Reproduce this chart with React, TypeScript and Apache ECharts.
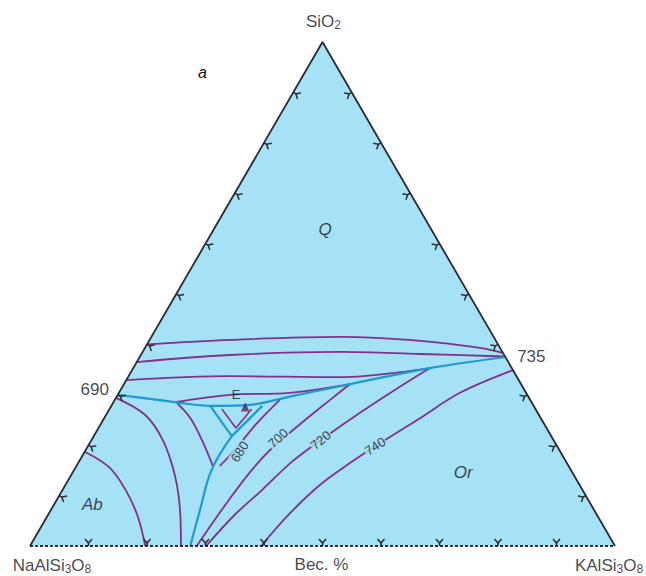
import React, { useEffect, useRef } from "react";
import * as echarts from "echarts";

// All compositions are ternary wt.% pairs: [Q (SiO2), Or (KAlSi3O8)]; Ab = 100 - Q - Or
const vertices = [[0, 0], [0, 100], [100, 0]];
const tickSteps = [10, 20, 30, 40, 50, 60, 70, 80, 90];

const cotecticMain = [[30, 0], [29.2, 5.9], [28.4, 11.4], [27.8, 16.9], [28.0, 23.6], [29.8, 30.1], [32.1, 38.6], [35.3, 50.7], [37.5, 62.5]];
const cotecticLoop = [[27.8, 16.9], [21.8, 23.6], [27.8, 25.8]];
const feldsparBoundary = [[21.8, 23.6], [15.1, 23.5], [7.1, 25.5], [0, 27.4]];

const qIso1 = [[40, 0], [40.9, 13.8], [41.5, 32.3], [40.7, 46.4], [39.3, 57.3], [38.3, 61.7]];
const qIso2 = [[36.5, 0], [37.9, 15.2], [38.5, 33.7], [38.1, 47.6], [37.6, 62.4]];
const qIso3 = [[32.9, 0], [33.7, 17.3], [33.5, 36.2], [35.3, 50.7]];
const qIso4 = [[28.6, 10.8], [30.0, 19.2], [30.4, 29.2], [32.1, 38.6]];

const orIso680 = [[29.0, 28.2], [24.0, 26.5], [19.0, 25.5], [15.9, 24.5]];
const orIso700 = [[32.1, 38.6], [29.0, 36.8], [24.2, 34.1], [19.0, 31.5], [14.7, 30.3], [8.1, 29.3], [0, 28.5]];
const orIso720 = [[35.3, 50.7], [30.6, 46.6], [25.8, 42.7], [21.0, 39.2], [16.7, 36.4], [11.1, 34.1], [6.2, 31.9], [0, 30.1]];
const orIso740 = [[34.9, 65.1], [30.4, 58.3], [25.0, 53.7], [19.8, 49.1], [16.5, 46.5], [12.1, 43.5], [6.5, 41.2], [0, 39.5]];

const abIso1 = [[18.7, 0], [15.5, 5.9], [10.7, 11.2], [5.6, 15.7], [0, 19.7]];
const abIso2 = [[29.4, 0], [26.0, 6.7], [21.0, 12.2], [14.1, 17.7], [7.1, 22.1], [0, 25.8]];
const abIso3 = [[28.4, 10.9], [25.4, 14.7], [21.0, 18.9], [15.9, 23.3]];
const innerIso = [[27.2, 19.2], [23.4, 23.5], [27.2, 24.3]];
const minimumPoint = [[27.6, 23.0]];

const isoLabelTexts = ["680", "700", "720", "740"];
const isoLabelPos = [[18.7, 26.5], [21.4, 31.7], [21.0, 39.2], [19.8, 49.1]];
const isoLabelRot = [58, 42, 40, 33];

const fieldLabelTexts = ["Q", "Or", "Ab"];
const fieldLabelPos = [[62.7, 19.1], [14.5, 66.8], [8.3, 6.5]];

const S3 = Math.sqrt(3) / 2;
const toXY = (q: number, or: number) => [or + q / 2, q * S3];

const PURPLE = "#84308a";
const CYAN = "#1c9ad3";
const FILL = "#a6e2f6";
const INK = "#15151f";
const FONT = "Liberation Sans";

function lineSeries(pts: number[][], color: string, width: number, smooth = 0.35) {
  return {
    type: "line",
    data: pts.map(([q, o]) => toXY(q, o)),
    showSymbol: false,
    smooth,
    silent: true,
    z: color === CYAN ? 4 : 3,
    lineStyle: { color, width },
  };
}

export default function App() {
  const ref = useRef<HTMLDivElement>(null);
  useEffect(() => {
    if (!ref.current) return;
    const chart = echarts.init(ref.current, null, { renderer: "svg" });

    const tickData: number[][] = [];
    [0, 1, 2].forEach((side) => tickSteps.forEach((s) => tickData.push([side, s])));

    const sub = { fontSize: 12, fontFamily: FONT, color: INK, padding: [7, 0, 0, 0] };
    const main = { fontSize: 17, fontFamily: FONT, color: INK };

    const textLabels = [
      { value: toXY(0, 0), label: { formatter: "{n|NaAlSi}{s|3}{n|O}{s|8}", offset: [22, 19] } },
      { value: toXY(0, 100), label: { formatter: "{n|KAlSi}{s|3}{n|O}{s|8}", offset: [-6, 19] } },
      { value: toXY(100, 0), label: { formatter: "{n|SiO}{s|2}", offset: [1, -21] } },
      { value: toXY(0, 50), label: { formatter: "{n|Bec. %}", offset: [-1, 18] } },
      { value: toXY(30, 0), label: { formatter: "{n|690}", offset: [-23, -5] } },
      { value: toXY(37.5, 62.5), label: { formatter: "{n|735}", offset: [26, -1] } },
    ];

    const option: any = {
      animation: false,
      grid: { left: 30, right: 31, top: 42, bottom: 30 },
      xAxis: { type: "value", min: 0, max: 100, show: false },
      yAxis: { type: "value", min: 0, max: 100 * S3, show: false },
      graphic: [
        { type: "text", x: 198, y: 64, style: { text: "a", font: `italic 16px ${FONT}`, fill: INK } },
      ],
      series: [
        {
          type: "custom",
          silent: true,
          z: 1,
          data: [[0, 0]],
          renderItem: (_p: any, api: any) => {
            const pts = vertices.map(([q, o]) => api.coord(toXY(q, o)));
            return { type: "polygon", shape: { points: pts }, style: { fill: FILL, stroke: "none" } };
          },
        },
        {
          type: "line",
          data: [toXY(0, 0), toXY(0, 100)],
          showSymbol: false,
          silent: true,
          z: 5,
          lineStyle: { color: "#2a2a35", width: 2.2, type: [3, 2] },
        },
        {
          type: "line",
          data: [toXY(0, 0), toXY(100, 0), toXY(0, 100)],
          showSymbol: false,
          silent: true,
          z: 5,
          lineStyle: { color: "#2a2a35", width: 1.8 },
        },
        {
          type: "custom",
          silent: true,
          z: 6,
          data: tickData,
          renderItem: (params: any, api: any) => {
            const side = api.value(0);
            const s = api.value(1);
            let q = 0, o = 0, n = [0, -1];
            if (side === 0) { q = 0; o = s; n = [0, -1]; }
            else if (side === 1) { q = s; o = 0; n = [0.866, 0.5]; }
            else { q = s; o = 100 - s; n = [-0.866, 0.5]; }
            const p = api.coord(toXY(q, o));
            const t = [-n[1], n[0]];
            const stem = [p[0] + n[0] * 3, p[1] + n[1] * 3];
            const a1 = [stem[0] + n[0] * 4 + t[0] * 3.5, stem[1] + n[1] * 4 + t[1] * 3.5];
            const a2 = [stem[0] + n[0] * 4 - t[0] * 3.5, stem[1] + n[1] * 4 - t[1] * 3.5];
            const st = { stroke: "#2a2a35", lineWidth: 1.5, fill: "none" };
            return {
              type: "group",
              children: [
                { type: "line", shape: { x1: p[0], y1: p[1], x2: stem[0], y2: stem[1] }, style: st },
                { type: "polyline", shape: { points: [a1, stem, a2] }, style: st },
              ],
            };
          },
        },
        lineSeries(qIso1, PURPLE, 1.8),
        lineSeries(qIso2, PURPLE, 1.8),
        lineSeries(qIso3, PURPLE, 1.8),
        lineSeries(qIso4, PURPLE, 1.8),
        lineSeries(orIso680, PURPLE, 1.8),
        lineSeries(orIso700, PURPLE, 1.8),
        lineSeries(orIso720, PURPLE, 1.8),
        lineSeries(orIso740, PURPLE, 1.8),
        lineSeries(abIso1, PURPLE, 1.8),
        lineSeries(abIso2, PURPLE, 1.8),
        lineSeries(abIso3, PURPLE, 1.8),
        lineSeries(innerIso, PURPLE, 1.6, 0),
        lineSeries(cotecticMain, CYAN, 2.2, 0.3),
        lineSeries(cotecticLoop, CYAN, 2.2, 0),
        lineSeries(feldsparBoundary, CYAN, 2.2, 0.4),
        {
          type: "scatter",
          silent: true,
          z: 8,
          symbol: "triangle",
          symbolSize: 9,
          itemStyle: { color: "#5b1f63" },
          data: minimumPoint.map(([q, o]) => toXY(q, o)),
          label: { show: true, formatter: "E", position: [-9, -14], fontSize: 13, fontFamily: FONT, color: INK },
        },
        {
          type: "scatter",
          silent: true,
          z: 9,
          symbolSize: 0,
          data: isoLabelTexts.map((t, i) => ({
            value: toXY(isoLabelPos[i][0], isoLabelPos[i][1]),
            label: { formatter: t, rotate: isoLabelRot[i] },
          })),
          label: {
            show: true,
            position: "inside",
            fontSize: 13,
            fontFamily: FONT,
            color: INK,
            backgroundColor: FILL,
            padding: [0, 1],
          },
        },
        {
          type: "scatter",
          silent: true,
          z: 9,
          symbolSize: 0,
          data: fieldLabelTexts.map((t, i) => ({
            value: toXY(fieldLabelPos[i][0], fieldLabelPos[i][1]),
            label: { formatter: t },
          })),
          label: { show: true, position: "inside", fontSize: 17, fontStyle: "italic", fontFamily: FONT, color: INK },
        },
        {
          type: "scatter",
          silent: true,
          z: 9,
          symbolSize: 0,
          data: textLabels,
          label: { show: true, position: "inside", rich: { n: main, s: sub } },
        },
      ],
    };
    chart.setOption(option);
    return () => chart.dispose();
  }, []);
  return (
    <div
      ref={ref}
      style={{ position: "absolute", left: 0, top: 0, width: 646, height: 576, background: "#fff" }}
    />
  );
}
